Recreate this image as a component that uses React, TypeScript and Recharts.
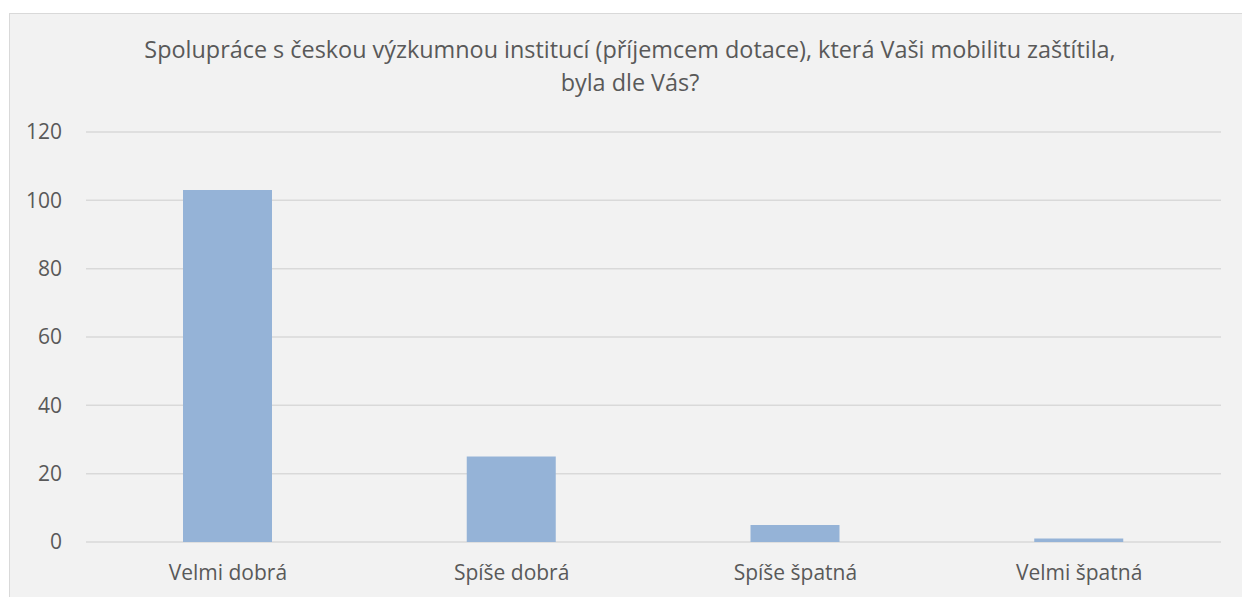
import { BarChart, Bar, XAxis, YAxis, CartesianGrid } from "recharts";

const categories = ["Velmi dobrá", "Spíše dobrá", "Spíše špatná", "Velmi špatná"];
const counts = [103, 25, 5, 1];
const yTicks = [0, 20, 40, 60, 80, 100, 120];
const titleLines = [
  "Spolupráce s českou výzkumnou institucí (příjemcem dotace), která Vaši mobilitu zaštítila,",
  "byla dle Vás?",
];

const data = categories.map((name, i) => ({ name, count: counts[i] }));

const FONT = "'Open Sans', sans-serif";
const TEXT = "#595959";

export default function App() {
  return (
    <div
      style={{
        position: "fixed",
        left: 0,
        top: 0,
        width: 1242,
        height: 597,
        overflow: "hidden",
        background: "#fff",
      }}
    >
      <div
        style={{
          position: "absolute",
          left: 9,
          top: 13,
          width: 1233,
          height: 584,
          boxSizing: "border-box",
          borderTop: "1px solid #d9d9d9",
          borderLeft: "1px solid #d9d9d9",
          background: "#f2f2f2",
        }}
      >
        {/* title */}
        <div
          style={{
            position: "absolute",
            left: 0,
            top: 19,
            width: 1240,
            textAlign: "center",
            fontFamily: FONT,
            fontSize: 23.4,
            lineHeight: "33px",
            color: TEXT,
            whiteSpace: "nowrap",
          }}
        >
          {titleLines.map((t) => (
            <div key={t}>{t}</div>
          ))}
        </div>
        <div style={{ position: "absolute", left: 0, top: 0 }}>
          <BarChart
            width={1232}
            height={583}
            data={data}
            margin={{ top: 118, right: 21, bottom: 0, left: 0 }}
          >
            <CartesianGrid vertical={false} stroke="#d9d9d9" strokeWidth={1.5} />
            <XAxis
              dataKey="name"
              axisLine={false}
              tickLine={false}
              tickSize={0}
              tickMargin={23}
              height={55}
              tick={{ fill: TEXT, fontSize: 21, fontFamily: FONT }}
            />
            <YAxis
              domain={[0, 120]}
              ticks={yTicks}
              axisLine={false}
              tickLine={false}
              tickSize={0}
              tickMargin={24}
              width={76}
              tick={{ fill: TEXT, fontSize: 21, fontFamily: FONT }}
            />
            <Bar dataKey="count" fill="#95b3d7" barSize={89} isAnimationActive={false} />
          </BarChart>
        </div>
      </div>
    </div>
  );
}
